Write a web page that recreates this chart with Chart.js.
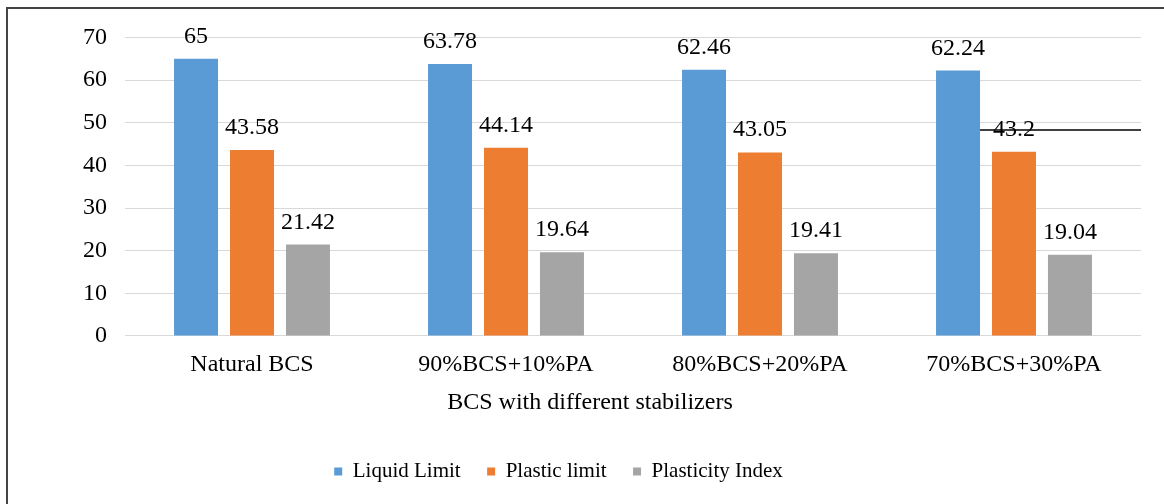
<!DOCTYPE html>
<html>
<head>
<meta charset="utf-8">
<script src="https://cdn.jsdelivr.net/npm/chart.js@4.4.0/dist/chart.umd.min.js"></script>
<style>
html,body{margin:0;padding:0;background:#fff;}
#wrap{width:1164px;height:504px;position:relative;}
</style>
</head>
<body>
<div id="wrap"><canvas id="c" width="1164" height="504"></canvas></div>
<script>
const categories = ["Natural BCS", "90%BCS+10%PA", "80%BCS+20%PA", "70%BCS+30%PA"];
const liquidLimit = [65, 63.78, 62.46, 62.24];
const plasticLimit = [43.58, 44.14, 43.05, 43.2];
const plasticityIndex = [21.42, 19.64, 19.41, 19.04];
const yTicks = [0, 10, 20, 30, 40, 50, 60, 70];
const seriesNames = ["Liquid Limit", "Plastic limit", "Plasticity Index"];
const strayLineValue = 48.3;

const FONT = "'Liberation Serif', 'Times New Roman', serif";

const framePlugin = {
  id: 'frame',
  beforeDraw(chart) {
    const ctx = chart.ctx;
    ctx.save();
    ctx.fillStyle = '#fff';
    ctx.fillRect(0, 0, chart.width, chart.height);
    ctx.strokeStyle = '#444';
    ctx.lineWidth = 2;
    ctx.strokeRect(7, 8, chart.width + 20, chart.height + 20);
    ctx.restore();
  }
};

const labelsPlugin = {
  id: 'valueLabels',
  afterDatasetsDraw(chart) {
    const ctx = chart.ctx;
    ctx.save();
    ctx.font = "24px " + FONT;
    ctx.fillStyle = '#000';
    ctx.textAlign = 'center';
    ctx.textBaseline = 'alphabetic';
    chart.data.datasets.forEach((ds, i) => {
      const meta = chart.getDatasetMeta(i);
      meta.data.forEach((bar, j) => {
        ctx.fillText(String(ds.data[j]), bar.x, bar.y - 16);
      });
    });
    ctx.restore();
  }
};

const strayLinePlugin = {
  id: 'strayLine',
  afterDraw(chart) {
    const ctx = chart.ctx;
    const y = chart.scales.y.getPixelForValue(strayLineValue);
    const bar = chart.getDatasetMeta(0).data[3];
    const x0 = bar.x + bar.width / 2;
    ctx.save();
    ctx.strokeStyle = '#000';
    ctx.lineWidth = 1.5;
    ctx.beginPath();
    ctx.moveTo(x0, y);
    ctx.lineTo(chart.chartArea.right, y);
    ctx.stroke();
    ctx.restore();
  }
};

const titlePlugin = {
  id: 'xTitle',
  afterDraw(chart) {
    const ctx = chart.ctx;
    const xs = chart.scales.x;
    ctx.save();
    ctx.font = "24px " + FONT;
    ctx.fillStyle = '#000';
    ctx.textAlign = 'center';
    ctx.textBaseline = 'middle';
    ctx.fillText("BCS with different stabilizers", (chart.chartArea.left + chart.chartArea.right) / 2 - 43, xs.bottom - 32);
    ctx.restore();
  }
};

const legendShift = {
  id: 'legendShift',
  afterLayout(chart) {
    const l = chart.legend;
    if (!l) return;
    l.left -= 44.5; l.right -= 44.5;
    l.adjustHitBoxes();
  }
};

new Chart(document.getElementById('c'), {
  type: 'bar',
  data: {
    labels: categories,
    datasets: [
      { label: seriesNames[0], data: liquidLimit, backgroundColor: '#5B9BD5' },
      { label: seriesNames[1], data: plasticLimit, backgroundColor: '#ED7D31' },
      { label: seriesNames[2], data: plasticityIndex, backgroundColor: '#A5A5A5' }
    ]
  },
  options: {
    responsive: false,
    animation: false,
    devicePixelRatio: 1,
    layout: { padding: { left: 65, right: 23, top: 37.5, bottom: 12 } },
    datasets: { bar: { categoryPercentage: 0.661, barPercentage: 0.786 } },
    scales: {
      x: {
        grid: { display: false },
        border: { display: false },
        ticks: { font: { family: FONT, size: 24 }, color: '#000', padding: 6, maxRotation: 0 },
        title: { display: true, text: ' ', font: { family: FONT, size: 24 }, padding: { top: 0, bottom: 21 } }
      },
      y: {
        min: 0, max: 70,
        afterBuildTicks(s) { s.ticks = yTicks.map(v => ({ value: v })); },
        grid: { color: '#d9d9d9', lineWidth: 1, drawTicks: false },
        border: { display: false },
        ticks: { font: { family: FONT, size: 24 }, color: '#000', padding: 18 }
      }
    },
    plugins: {
      legend: {
        position: 'bottom',
        labels: { font: { family: FONT, size: 21 }, color: '#000', boxWidth: 8, boxHeight: 8, padding: 26.5 }
      },
      tooltip: { enabled: false }
    }
  },
  plugins: [framePlugin, labelsPlugin, strayLinePlugin, titlePlugin, legendShift]
});
</script>
</body>
</html>
